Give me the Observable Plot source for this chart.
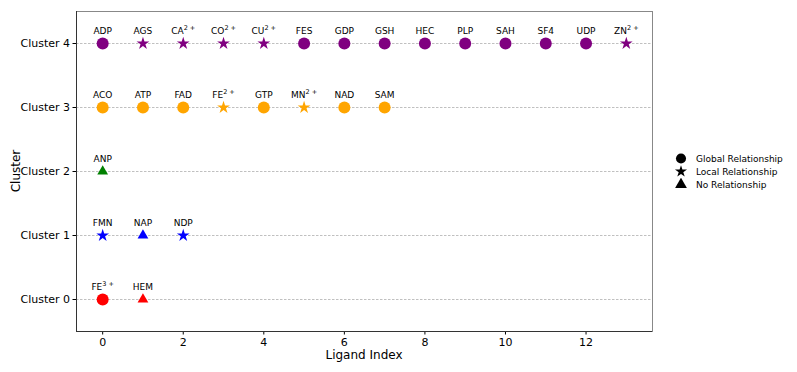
<!DOCTYPE html>
<html>
<head>
<meta charset="utf-8">
<script src="https://cdn.jsdelivr.net/npm/d3@7"></script>
<script src="https://cdn.jsdelivr.net/npm/@observablehq/plot@0.6"></script>
<style>
  html, body { margin: 0; padding: 0; background: #fff; }
  #wrap { position: relative; width: 797px; height: 372px; font-family: "DejaVu Sans", sans-serif; }
  #legend { position: absolute; left: 673px; top: 152px; font-size: 9px; color: #000; }
  #legend .row { display: flex; align-items: center; height: 13px; }
  #legend svg { width: 16px; height: 13px; margin-right: 7px; }
</style>
</head>
<body>
<div id="wrap"></div>
<script>
// ---- data ----
const clusterNames = ["Cluster 0", "Cluster 1", "Cluster 2", "Cluster 3", "Cluster 4"];
const clusterColors = ["#ff0000", "#0000ff", "#008000", "#ffa500", "#800080"];
const relTypes = ["Global Relationship", "Local Relationship", "No Relationship"];
const relSymbols = ["circle", "star", "triangle"];

const cluster0Ligands = ["FE^{3+}", "HEM"];
const cluster0Rel = ["Global Relationship", "No Relationship"];
const cluster1Ligands = ["FMN", "NAP", "NDP"];
const cluster1Rel = ["Local Relationship", "No Relationship", "Local Relationship"];
const cluster2Ligands = ["ANP"];
const cluster2Rel = ["No Relationship"];
const cluster3Ligands = ["ACO", "ATP", "FAD", "FE^{2+}", "GTP", "MN^{2+}", "NAD", "SAM"];
const cluster3Rel = ["Global Relationship", "Global Relationship", "Global Relationship", "Local Relationship",
  "Global Relationship", "Local Relationship", "Global Relationship", "Global Relationship"];
const cluster4Ligands = ["ADP", "AGS", "CA^{2+}", "CO^{2+}", "CU^{2+}", "FES", "GDP", "GSH", "HEC", "PLP", "SAH", "SF4", "UDP", "ZN^{2+}"];
const cluster4Rel = ["Global Relationship", "Local Relationship", "Local Relationship", "Local Relationship",
  "Local Relationship", "Global Relationship", "Global Relationship", "Global Relationship", "Global Relationship",
  "Global Relationship", "Global Relationship", "Global Relationship", "Global Relationship", "Local Relationship"];

const xTicks = [0, 2, 4, 6, 8, 10, 12];
const yTicks = [0, 1, 2, 3, 4];

// ---- build table ----
const groups = [
  [cluster0Ligands, cluster0Rel],
  [cluster1Ligands, cluster1Rel],
  [cluster2Ligands, cluster2Rel],
  [cluster3Ligands, cluster3Rel],
  [cluster4Ligands, cluster4Rel]
];
const rows = [];
groups.forEach(([ligs, rels], c) => {
  ligs.forEach((name, i) => rows.push({cluster: c, index: i, name, rel: rels[i]}));
});
const symbolSize = {"Global Relationship": 6.0, "Local Relationship": 4.0, "No Relationship": 4.0};

const chart = Plot.plot({
  width: 797,
  height: 372,
  marginLeft: 76,
  marginRight: 145,
  marginTop: 11,
  marginBottom: 41,
  style: {fontFamily: "DejaVu Sans, sans-serif", background: "#fff"},
  x: {domain: [-0.65, 13.65], ticks: xTicks, label: null},
  y: {domain: [-0.5, 4.5], ticks: yTicks, label: null},
  r: {type: "identity"},
  color: {type: "ordinal", domain: yTicks, range: clusterColors},
  symbol: {domain: relTypes, range: relSymbols},
  marks: [
    Plot.gridY(yTicks, {stroke: "#b0b0b0", strokeOpacity: 1, strokeWidth: 0.8, strokeDasharray: "2.5,1.5"}),
    Plot.frame({stroke: "#888", strokeWidth: 1}),
    Plot.axisX({ticks: xTicks, tickSize: 3.5, fontSize: 11, tickPadding: 3, label: null}),
    Plot.axisY({ticks: yTicks, tickSize: 3.5, fontSize: 11, tickPadding: 3, tickFormat: d => clusterNames[d], label: null}),
    Plot.ruleX([-0.65], {stroke: "#333", strokeWidth: 1}),
    Plot.ruleY([-0.5], {stroke: "#333", strokeWidth: 1}),
    Plot.dot(rows, {x: "index", y: "cluster", fill: "cluster", symbol: "rel",
      r: d => symbolSize[d.rel], stroke: null}),
    Plot.text(rows, {x: "index", y: "cluster", text: "name", dy: -10, fontSize: 9, fill: "#000",
      lineAnchor: "bottom", textAnchor: "middle", className: "liglabel"})
  ]
});

const wrap = document.getElementById("wrap");
wrap.appendChild(chart);

// superscripts in labels
d3.select(chart).selectAll(".liglabel text").each(function () {
  const t = d3.select(this);
  const s = t.text();
  const m = s.match(/^(.*)\^\{(.*)\}$/);
  if (!m) return;
  t.text("");
  t.append("tspan").text(m[1]);
  t.append("tspan").attr("font-size", 6.5).attr("dy", -4).text(m[2].replace("+", " +"));
});

// axis titles
const svg = d3.select(chart);
svg.append("text").attr("x", (76 + 652) / 2).attr("y", 359).attr("text-anchor", "middle")
  .attr("font-size", 12).attr("font-family", "DejaVu Sans, sans-serif").text("Ligand Index");
svg.append("text").attr("transform", `translate(20,${(11 + 331) / 2}) rotate(-90)`).attr("text-anchor", "middle")
  .attr("font-size", 12).attr("font-family", "DejaVu Sans, sans-serif").text("Cluster");

// legend
const legend = document.createElement("div");
legend.id = "legend";
const legendSizes = [80, 45, 60];
relTypes.forEach((t, i) => {
  const row = document.createElement("div");
  row.className = "row";
  const s = d3.create("svg").attr("viewBox", "-8 -6.5 16 13");
  const sym = {circle: d3.symbolCircle, star: d3.symbolStar, triangle: d3.symbolTriangle}[relSymbols[i]];
  s.append("path").attr("d", d3.symbol(sym, legendSizes[i])()).attr("fill", "#000");
  row.appendChild(s.node());
  const span = document.createElement("span");
  span.textContent = t;
  row.appendChild(span);
  legend.appendChild(row);
});
wrap.appendChild(legend);
</script>
</body>
</html>
